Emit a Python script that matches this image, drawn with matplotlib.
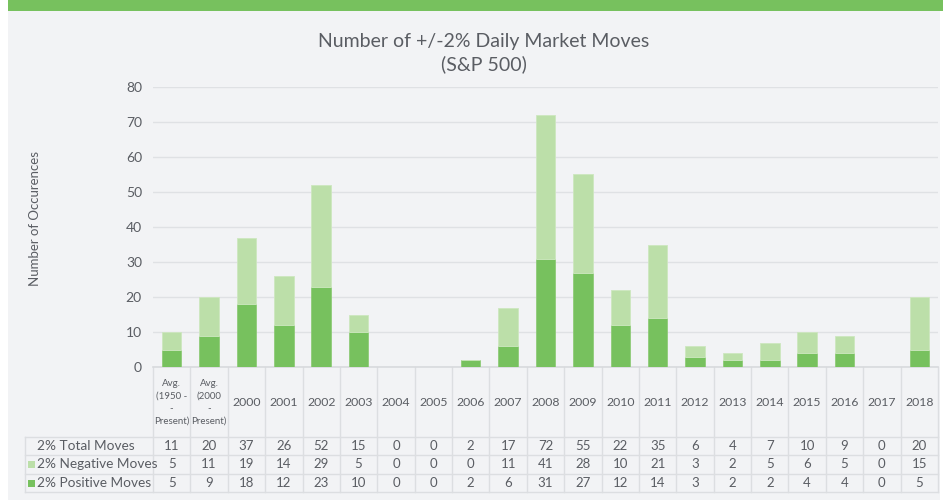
import matplotlib.pyplot as plt
from matplotlib.patches import Rectangle
from matplotlib.transforms import blended_transform_factory

# data
categories = ['Avg.\n(1950 -\n-\nPresent)', 'Avg.\n(2000\n-\nPresent)',
              '2000', '2001', '2002', '2003', '2004', '2005', '2006', '2007',
              '2008', '2009', '2010', '2011', '2012', '2013', '2014', '2015',
              '2016', '2017', '2018']
total_moves = [11, 20, 37, 26, 52, 15, 0, 0, 2, 17, 72, 55, 22, 35, 6, 4, 7, 10, 9, 0, 20]
negative_moves = [5, 11, 19, 14, 29, 5, 0, 0, 0, 11, 41, 28, 10, 21, 3, 2, 5, 6, 5, 0, 15]
positive_moves = [5, 9, 18, 12, 23, 10, 0, 0, 2, 6, 31, 27, 12, 14, 3, 2, 2, 4, 4, 0, 5]
row_labels = ['2% Total Moves', '2% Negative Moves', '2% Positive Moves']

dark_green = '#77c15e'
light_green = '#bcdfa9'
bg = '#f2f3f5'
text_col = '#5a5d63'
grid_col = '#dfe1e4'

plt.rcParams['font.family'] = ['Lato', 'DejaVu Sans']

W, H = 943, 500
fig = plt.figure(figsize=(W / 100, H / 100), dpi=100)
fig.patch.set_facecolor('white')
# background panel and top band
fig.add_artist(Rectangle((8 / W, 0), (940 - 8) / W, 1, transform=fig.transFigure,
                         facecolor=bg, edgecolor='none', zorder=-10))
fig.add_artist(Rectangle((8 / W, 1 - 11 / H), (943 - 8) / W, 11 / H, transform=fig.transFigure,
                         facecolor=dark_green, edgecolor='none', zorder=-9))

left, right, top0, bot0 = 153, 938, 87, 367
ax = fig.add_axes([left / W, 1 - bot0 / H, (right - left) / W, (bot0 - top0) / H])
ax.set_facecolor('none')

n = len(categories)
x = list(range(n))
ax.bar(x, positive_moves, width=0.52, color=dark_green, edgecolor='#8fcb78', linewidth=0.6, zorder=3)
ax.bar(x, negative_moves, width=0.52, bottom=positive_moves, color=light_green,
       edgecolor='#cde7bf', linewidth=0.6, zorder=3)

ax.set_xlim(-0.5, n - 0.5)
ax.set_ylim(0, 80)
ax.set_yticks(range(0, 81, 10))
ax.tick_params(axis='y', length=0, labelsize=10, labelcolor=text_col, pad=8)
ax.set_xticks([])
for s in ['top', 'right', 'left']:
    ax.spines[s].set_visible(False)
ax.spines['bottom'].set_color('#d8dadd')
ax.spines['bottom'].set_linewidth(1.2)
ax.grid(axis='y', color=grid_col, linewidth=1, zorder=0)
ax.set_axisbelow(True)

fig.text(484 / W, 1 - 42 / H, 'Number of +/-2% Daily Market Moves', ha='center', va='center',
         fontsize=14, color=text_col)
fig.text(484 / W, 1 - 64 / H, '(S&P 500)', ha='center', va='center', fontsize=14,
         color=text_col)
fig.text(35 / W, 1 - 218 / H, 'Number of Occurences', rotation=90, ha='center', va='center',
         fontsize=9.5, color=text_col)

# data table below the axis
ph = bot0 - top0
def yax(py):
    return (bot0 - py) / ph

tr = blended_transform_factory(ax.transData, ax.transAxes)
ftr = blended_transform_factory(fig.transFigure, ax.transAxes)
line_kw = dict(color='#dcdee1', linewidth=1, clip_on=False)
row_edges = [437, 455, 474, 492]
for i in range(n + 1):
    ax.plot([i - 0.5, i - 0.5], [yax(367), yax(492)], transform=tr, **line_kw)
for py in row_edges:
    ax.plot([25 / W, 938 / W], [yax(py), yax(py)], transform=ftr, **line_kw)
ax.plot([25 / W, 25 / W], [yax(437), yax(492)], transform=ftr, **line_kw)

for i, lab in enumerate(categories):
    if i < 2:
        ax.text(i, yax(402), lab, transform=tr, ha='center', va='center', fontsize=7,
                color=text_col, linespacing=1.5)
    else:
        ax.text(i, yax(402), lab, transform=tr, ha='center', va='center', fontsize=8.8,
                color=text_col)

rows = [total_moves, negative_moves, positive_moves]
row_centers = [446, 464.5, 483]
for vals, cy in zip(rows, row_centers):
    for i, v in enumerate(vals):
        ax.text(i, yax(cy), str(v), transform=tr, ha='center', va='center', fontsize=9.5,
                color=text_col)

swatches = [None, light_green, dark_green]
for lab, cy, sw in zip(row_labels, row_centers, swatches):
    ax.text(37 / W, yax(cy), lab, transform=ftr, ha='left', va='center', fontsize=9.8,
            color=text_col)
    if sw:
        ax.add_artist(Rectangle((28 / W, yax(cy + 3.5)), 7 / W, 7 / ph, transform=ftr,
                                facecolor=sw, edgecolor='none', clip_on=False))

fig.savefig('out.png', dpi=100, facecolor=fig.get_facecolor())
